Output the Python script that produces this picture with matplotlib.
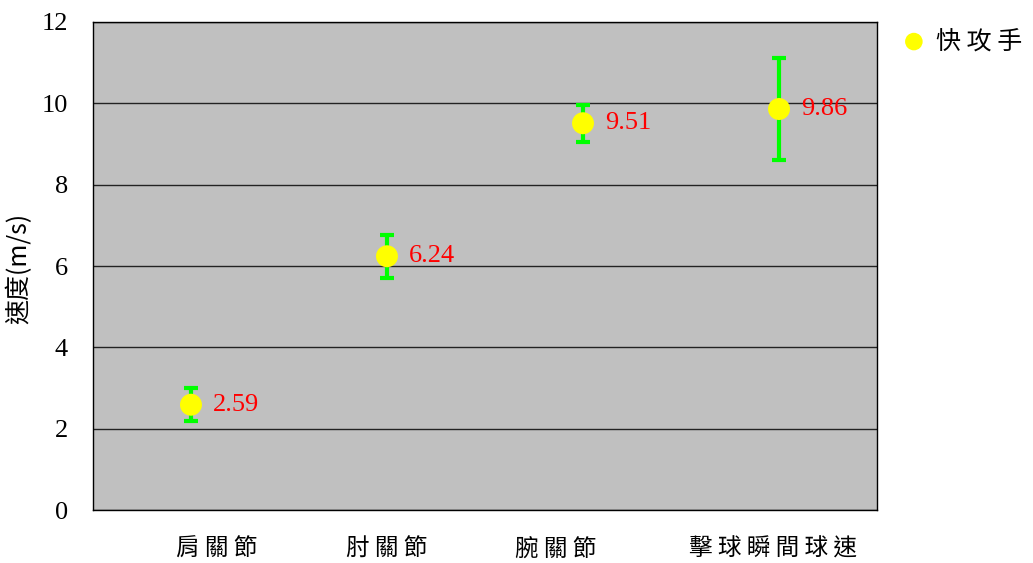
import matplotlib
import matplotlib.pyplot as plt
import matplotlib.transforms as mtransforms
import numpy as np

matplotlib.use("Agg")

CJK_FONT = ["Noto Sans CJK TC", "DejaVu Sans"]
NUM_FONT = "Liberation Serif"

PLOT_BG = "#C0C0C0"
POINT_COLOR = "#FFFF00"
ERR_COLOR = "#00FF00"
LABEL_COLOR = "#FF0000"

categories = ["肩關節", "肘關節", "腕關節", "擊球瞬間球速"]
speeds = [2.59, 6.24, 9.51, 9.86]
speed_sd = [0.41, 0.53, 0.45, 1.25]
series_name = "快攻手"
y_ticks = [0, 2, 4, 6, 8, 10, 12]

# horizontal nudge (pixels) of each category label under its column
label_shift_px = [26, 0, -27, -6]


def spaced(text):
    return " ".join(text)


fig = plt.figure(figsize=(10.33, 5.63), dpi=100)
ax = fig.add_axes([0.090, 0.094, 0.759, 0.867])
ax.set_facecolor(PLOT_BG)

x = np.arange(len(categories))
ax.errorbar(x, speeds, yerr=speed_sd, fmt="none", ecolor=ERR_COLOR,
            elinewidth=3, capsize=5, capthick=3, zorder=3)
ax.scatter(x, speeds, s=250, color=POINT_COLOR, edgecolors="none",
           zorder=4, label=spaced(series_name))

for xi, v in zip(x, speeds):
    ax.annotate(f"{v:.2f}", (xi, v), xytext=(16, 0), textcoords="offset points",
                ha="left", va="center", color=LABEL_COLOR,
                fontsize=19, family=NUM_FONT, zorder=5)

ax.set_xlim(-0.5, len(categories) - 0.5)
ax.set_ylim(0, 12)
ax.set_yticks(y_ticks)
ax.set_yticklabels([str(t) for t in y_ticks], family=NUM_FONT, fontsize=19)
ax.set_xticks(x)
ax.set_xticklabels([spaced(c) for c in categories], family=CJK_FONT, fontsize=17)
ax.tick_params(axis="x", length=0, pad=20)
ax.tick_params(axis="y", length=0, pad=18)

for lbl, dx in zip(ax.get_xticklabels(), label_shift_px):
    lbl.set_transform(lbl.get_transform() +
                      mtransforms.ScaledTranslation(dx / 100, 0, fig.dpi_scale_trans))

ax.yaxis.grid(True, color="#222222", linewidth=1.0)
ax.set_axisbelow(True)
for spine in ax.spines.values():
    spine.set_edgecolor("black")
    spine.set_linewidth(1.0)

ax.set_ylabel("速度(m/s)", family=CJK_FONT, fontsize=18)
ax.yaxis.set_label_coords(-0.077, 0.496)

fig.legend(loc="upper left", bbox_to_anchor=(0.852, 0.99), frameon=False,
           prop={"family": CJK_FONT, "size": 18}, handlelength=0.9,
           handletextpad=0.45, markerscale=0.8)

fig.savefig("out.png", dpi=100, facecolor="white")
